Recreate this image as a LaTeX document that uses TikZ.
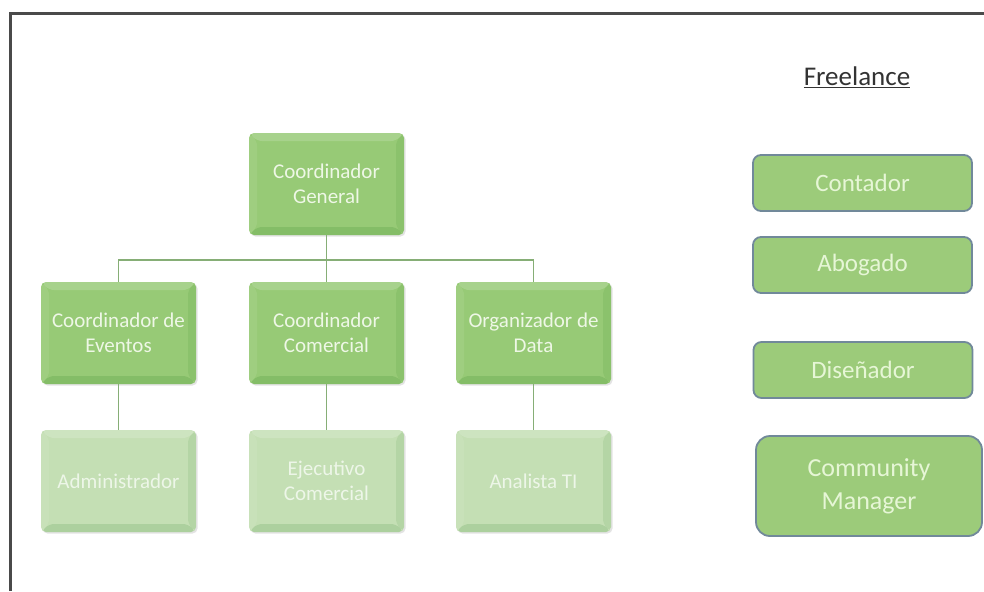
\documentclass[tikz,border=0pt]{standalone}
\usepackage{fontspec}
\setmainfont{Carlito}
\usetikzlibrary{shadows}

\definecolor{boxmain}{HTML}{97CA76}
\definecolor{boxlight}{HTML}{C4DFB4}
\definecolor{boxtext}{HTML}{EEF7E6}
\definecolor{lighttext}{HTML}{EDF6E8}
\definecolor{freefill}{HTML}{9CCB7A}
\definecolor{freeedge}{HTML}{71899A}
\definecolor{freetext}{HTML}{E6F6D6}
\definecolor{linkcol}{HTML}{86AE76}
\definecolor{framecol}{HTML}{4A4A4A}

\tikzset{
  bevel/.style={
    path picture={
      \fill[white,opacity=0.16]
        (path picture bounding box.north west) -- (path picture bounding box.north east)
        -- ([shift={(-8pt,-8pt)}]path picture bounding box.north east)
        -- ([shift={(8pt,-8pt)}]path picture bounding box.north west) -- cycle;
      \fill[white,opacity=0.08]
        (path picture bounding box.north west) -- (path picture bounding box.south west)
        -- ([shift={(8pt,8pt)}]path picture bounding box.south west)
        -- ([shift={(8pt,-8pt)}]path picture bounding box.north west) -- cycle;
      \fill[black!60!green,opacity=0.12]
        (path picture bounding box.south west) -- (path picture bounding box.south east)
        -- ([shift={(-8pt,8pt)}]path picture bounding box.south east)
        -- ([shift={(8pt,8pt)}]path picture bounding box.south west) -- cycle;
      \fill[black!60!green,opacity=0.08]
        (path picture bounding box.north east) -- (path picture bounding box.south east)
        -- ([shift={(-8pt,8pt)}]path picture bounding box.south east)
        -- ([shift={(-8pt,-8pt)}]path picture bounding box.north east) -- cycle;
    }},
  orgbox/.style={
    rounded corners=5pt, minimum width=155pt, minimum height=102pt,
    align=center, inner sep=0pt,
    fill=boxmain, text=boxtext, bevel,
    drop shadow={opacity=0.22, shadow xshift=1.5pt, shadow yshift=-1.5pt},
    font=\fontsize{21}{25}\selectfont},
  lowbox/.style={orgbox, fill=boxlight, text=lighttext},
  freebox/.style={
    rounded corners=8pt, minimum width=219pt, minimum height=56pt,
    align=center, inner sep=0pt, draw=freeedge, line width=1.8pt,
    fill=freefill, text=freetext,
    font=\fontsize{25}{30}\selectfont},
  link/.style={draw=linkcol, line width=1.6pt}
}

\begin{document}
\begin{tikzpicture}[x=1pt,y=-1pt]
\useasboundingbox (0,0) rectangle (984,591);
\fill[white] (0,0) rectangle (984,591);

% page frame
\draw[framecol, line width=2.6pt] (10.5,591) -- (10.5,13.5) -- (984,13.5);

% hierarchy
\node[orgbox] (cg) at (326.5,184) {Coordinador\\General};
\node[orgbox] (ce) at (118.5,333) {Coordinador de\\Eventos};
\node[orgbox] (cc) at (326.5,333) {Coordinador\\Comercial};
\node[orgbox] (od) at (533.5,333) {Organizador de\\Data};
\node[lowbox] (adm) at (118.5,481) {Administrador};
\node[lowbox] (ejc) at (326.5,481) {Ejecutivo\\Comercial};
\node[lowbox] (ati) at (533.5,481) {Analista TI};

\coordinate (bar) at (326.5,260);
\path[link] (cg.south) -- (cc.north);
\path[link] (ce.north) -- (ce.north |- bar) -- (od.north |- bar) -- (od.north);
\path[link] (ce.south) -- (adm.north);
\path[link] (cc.south) -- (ejc.north);
\path[link] (od.south) -- (ati.north);

% external roles
\node[font=\fontsize{27}{32}\selectfont, text=black!80] (fl) at (857,77) {\underline{Freelance}};
\node[freebox] (cont) at (862.5,183) {Contador};
\node[freebox] (abog) at (862.5,265) {Abogado};
\node[freebox] (dis) at (863,370) {Diseñador};
\node[freebox, font=\fontsize{26}{33}\selectfont, rounded corners=14pt,
  minimum width=226pt, minimum height=100pt]
  (cm) at (869,486) {Community\\Manager};
\end{tikzpicture}
\end{document}
